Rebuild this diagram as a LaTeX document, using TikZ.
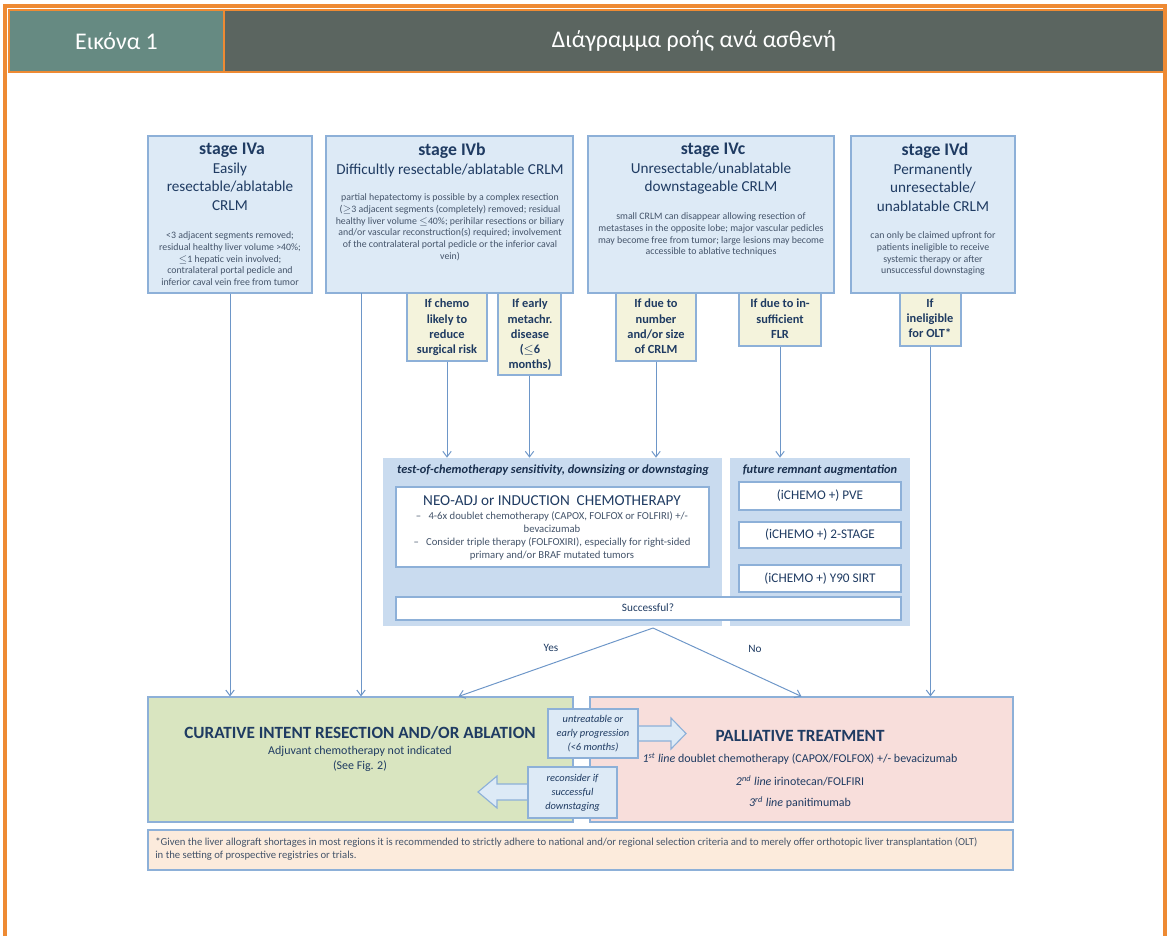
\documentclass[tikz,border=0pt]{standalone}
\usepackage{fontspec}
\setmainfont{Carlito}
\usetikzlibrary{fit,calc,arrows.meta}
\definecolor{frameorange}{HTML}{EE8A33}
\definecolor{hdleft}{HTML}{668A82}
\definecolor{hdright}{HTML}{5B6560}
\definecolor{lineblue}{HTML}{8DB0D8}
\definecolor{arrblue}{HTML}{6D96C8}
\definecolor{boxblue}{HTML}{DDEAF6}
\definecolor{ifyellow}{HTML}{F4F3DC}
\definecolor{contblue}{HTML}{C9DBEF}
\definecolor{curgreen}{HTML}{D9E5C0}
\definecolor{palpink}{HTML}{F8DEDB}
\definecolor{notepeach}{HTML}{FCEBDC}
\definecolor{navy}{HTML}{1F3B62}
\definecolor{txgray}{HTML}{44546A}
\newcommand{\fsz}[2]{\fontsize{#1}{#2}\selectfont}

\begin{document}
\begin{tikzpicture}[x=0.025cm,y=-0.025cm,
  box/.style={draw=lineblue,fill=boxblue,line width=0.8pt,inner sep=0pt},
  ifbox/.style={box,fill=ifyellow},
  wbox/.style={box,fill=white},
  cont/.style={fill=contblue,inner sep=0pt},
  hdtxt/.style={text=white,inner sep=0pt,font=\fsz{17}{20}},
  ttltxt/.style={text=navy,align=center,inner sep=0pt,font=\fsz{10.8}{13.2}},
  smalltxt/.style={text=txgray,align=center,inner sep=0pt,font=\fsz{7}{8.5}},
  iftxt/.style={text=navy,align=center,inner sep=0pt,font=\bfseries\fsz{8.8}{10.7}},
  cttxt/.style={text=navy!80!black,inner sep=0pt,font=\bfseries\itshape\fsz{8.8}{10.5}},
  midtxt/.style={text=navy,inner sep=0pt,font=\fsz{8.5}{10}},
  bigtxt/.style={text=navy,inner sep=0pt,font=\bfseries\fsz{12.2}{14}},
  ittxt/.style={text=navy,align=center,inner sep=0pt,font=\itshape\fsz{7.4}{10}},
  barr/.style={draw=lineblue,fill=boxblue,line width=0.8pt},
  arr/.style={-{Straight Barb[length=4pt,width=6pt]},draw=arrblue,line width=0.7pt}]

\useasboundingbox (0,0) rectangle (1170,936);

% header band
\node[fit={(9,10) (224,72)},fill=hdleft,draw=frameorange,line width=1.2pt,inner sep=0pt] (hdl) {};
\node[fit={(224,10) (1164,72)},fill=hdright,draw=frameorange,line width=1.2pt,inner sep=0pt] (hdr) {};
\node[hdtxt] (figno) at (hdl) {Εικόνα 1};
\node[hdtxt] (figttl) at (hdr) {Διάγραμμα ροής ανά ασθενή};
\draw[frameorange,line width=2.2pt] (5,936) -- (5,6) -- (1165,6) -- (1165,936);

% stages
\node[box,fit={(148,136) (312,293)}] (ivA) {};
\node[box,fit={(326,136) (573,293)}] (ivB) {};
\node[box,fit={(588,136) (834,293)}] (ivC) {};
\node[box,fit={(851,136) (1015,293)}] (ivD) {};

\node[ttltxt,anchor=north] (ivAt) at (230,143) {{\bfseries\fsz{12.6}{14} stage IVa}\\Easily\\resectable/ablatable\\CRLM};
\node[ttltxt,anchor=north] (ivBt) at (450,143) {{\bfseries\fsz{12.6}{14} stage IVb}\\Difficultly resectable/ablatable CRLM};
\node[ttltxt,anchor=north] (ivCt) at (711,143) {{\bfseries\fsz{12.6}{14} stage IVc}\\Unresectable/unablatable\\downstageable CRLM};
\node[ttltxt,anchor=north] (ivDt) at (933,143) {{\bfseries\fsz{12.6}{14} stage IVd}\\Permanently\\unresectable/\\unablatable CRLM};

\node[smalltxt,anchor=north] (ivAd) at (230,231) {<3 adjacent segments removed;\\residual healthy liver volume >40\%;\\$\leq$1 hepatic vein involved;\\contralateral portal pedicle and\\inferior caval vein free from tumor};
\node[smalltxt,anchor=north] (ivBd) at (450,193) {partial hepatectomy is possible by a complex resection\\($\geq$3 adjacent segments (completely) removed; residual\\healthy liver volume $\leq$40\%; perihilar resections or biliary\\and/or vascular reconstruction(s) required; involvement\\of the contralateral portal pedicle or the inferior caval\\vein)};
\node[smalltxt,anchor=north] (ivCd) at (711,212) {small CRLM can disappear allowing resection of\\metastases in the opposite lobe; major vascular pedicles\\may become free from tumor; large lesions may become\\accessible to ablative techniques};
\node[smalltxt,anchor=north] (ivDd) at (933,231) {can only be claimed upfront for\\patients ineligible to receive\\systemic therapy or after\\unsuccessful downstaging};

% conditions
\node[ifbox,fit={(407,293) (487,361)}] (ifA) {};
\node[ifbox,fit={(498,293) (561,375)}] (ifB) {};
\node[ifbox,fit={(616,293) (696,361)}] (ifC) {};
\node[ifbox,fit={(739,293) (821,346)}] (ifD) {};
\node[ifbox,fit={(900,293) (961,346)}] (ifE) {};
\node[iftxt,anchor=north] (ifAt) at (447,299) {If chemo\\likely to\\reduce\\surgical risk};
\node[iftxt,anchor=north] (ifBt) at (530,299) {If early\\metachr.\\disease\\($\leq$6\\months)};
\node[iftxt,anchor=north] (ifCt) at (656,299) {If due to\\number\\and/or size\\of CRLM};
\node[iftxt,anchor=north] (ifDt) at (780,299) {If due to in-\\sufficient\\FLR};
\node[iftxt,anchor=north] (ifEt) at (930,299) {If\\ineligible\\for OLT*};

% treatment blocks
\node[cont,fit={(383,458) (722,626)}] (lc) {};
\node[cont,fit={(730,458) (910,626)}] (rc) {};
\node[cttxt] (lct) at (553,470) {test-of-chemotherapy sensitivity, downsizing or downstaging};
\node[cttxt] (rct) at (820,470) {future remnant augmentation};

\node[wbox,fit={(396,487) (709,567)}] (neo) {};
\node[text=navy,inner sep=0pt,font=\fsz{10.8}{12}] (neot) at (552,501) {NEO-ADJ or INDUCTION\ \ CHEMOTHERAPY};
\node[smalltxt,anchor=north,font=\fsz{7.6}{9.4}] (neol) at (552,511) {--\ \ \ 4-6x doublet chemotherapy (CAPOX, FOLFOX or FOLFIRI) +/-\\bevacizumab\\--\ \ \ Consider triple therapy (FOLFOXIRI), especially for right-sided\\primary and/or BRAF mutated tumors};

\node[wbox,fit={(739,482) (901,510)}] (pve) {};
\node[wbox,fit={(739,522) (901,548)}] (two) {};
\node[wbox,fit={(739,565) (901,592)}] (sirt) {};
\node[text=navy,inner sep=0pt,font=\fsz{9.4}{11}] (pvet) at (pve) {(iCHEMO +) PVE};
\node[text=navy,inner sep=0pt,font=\fsz{9.4}{11}] (twot) at (two) {(iCHEMO +) 2-STAGE};
\node[text=navy,inner sep=0pt,font=\fsz{9.4}{11}] (sirtt) at (sirt) {(iCHEMO +) Y90 SIRT};

\node[wbox,fit={(396,597) (901,620)}] (succ) {};
\node[text=navy,inner sep=0pt,font=\fsz{8}{9}] (succt) at (648,608) {Successful?};

% outcomes
\node[box,fill=curgreen,fit={(148,697) (573,822)}] (cur) {};
\node[box,fill=palpink,fit={(590,697) (1013,822)}] (pal) {};
\node[bigtxt] (curt) at (360,733) {CURATIVE INTENT RESECTION AND/OR ABLATION};
\node[midtxt] (cura) at (360,751) {Adjuvant chemotherapy not indicated};
\node[midtxt] (curb) at (360,766) {(See Fig. 2)};
\node[bigtxt] (palt) at (800,736) {PALLIATIVE TREATMENT};
\node[midtxt] (pala) at (800,759) {\textit{1\textsuperscript{st} line} doublet chemotherapy (CAPOX/FOLFOX) +/- bevacizumab};
\node[midtxt] (palb) at (800,781) {\textit{2\textsuperscript{nd} line} irinotecan/FOLFIRI};
\node[midtxt] (palc) at (800,803) {\textit{3\textsuperscript{rd} line} panitimumab};

% flows
\coordinate (bsrc) at (361,293);
\coordinate (split) at (653,628);
\draw[arr] (ivA.south) -- (ivA.south |- cur.north);
\draw[arr] (bsrc) -- (bsrc |- cur.north);
\draw[arr] (ifA.south) -- (ifA.south |- lc.north);
\draw[arr] (ifB.south) -- (ifB.south |- lc.north);
\draw[arr] (ifC.south) -- (ifC.south |- lc.north);
\draw[arr] (ifD.south) -- (ifD.south |- rc.north);
\draw[arr] (ifE.south) -- (ifE.south |- pal.north);
\draw[arr] (split) -- ($(cur.north)+(98,0)$);
\draw[arr] (split) -- (pal.north);
\node[text=navy,font=\fsz{8}{9}] (yes) at (551,648) {Yes};
\node[text=navy,font=\fsz{8}{9}] (no) at (755,649) {No};

% cross-over arrows
\draw[barr] (630,726) -- (671,726) -- (671,718) -- (686,733.5) -- (671,749) -- (671,741) -- (630,741) -- cycle;
\draw[barr] (535,784) -- (497,784) -- (497,776) -- (478,792) -- (497,808) -- (497,800) -- (535,800) -- cycle;
\node[box,fit={(548,709) (638,758)}] (untr) {};
\node[box,fit={(528,767) (617,818)}] (recon) {};
\node[ittxt] (untrt) at (untr) {untreatable or\\early progression\\(<6 months)};
\node[ittxt] (recont) at (recon) {reconsider if\\successful\\downstaging};

% footnote
\node[box,fill=notepeach,fit={(148,830) (1013,870)}] (note) {};
\node[text=txgray,align=left,anchor=north west,inner sep=0pt,font=\fsz{7.6}{9.6}] (notet) at (155,837) {*Given the liver allograft shortages in most regions it is recommended to strictly adhere to national and/or regional selection criteria and to merely offer orthotopic liver transplantation (OLT)\\in the setting of prospective registries or trials.};
\end{tikzpicture}
\end{document}
